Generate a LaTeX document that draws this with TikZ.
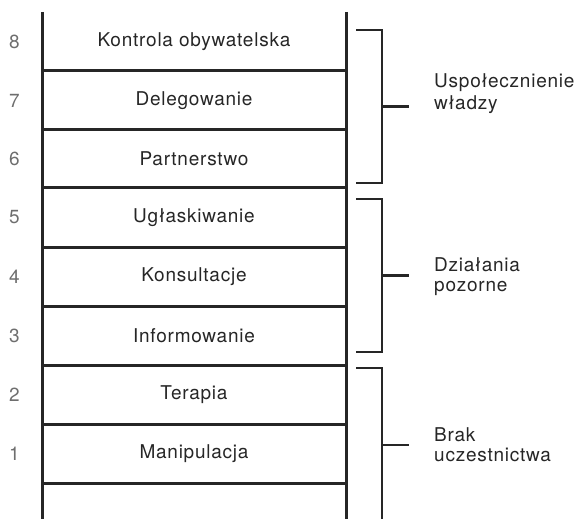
\documentclass[tikz,border=0pt]{standalone}
\usepackage{fontspec}
\setmainfont{TeX Gyre Heros}[LetterSpace=4]
\definecolor{ink}{HTML}{262626}
\definecolor{numgray}{HTML}{6E6E6E}
\begin{document}
\begin{tikzpicture}[x=1pt,y=-1pt,
  rail/.style={draw=ink,line width=3pt},
  rung/.style={draw=ink,line width=3pt},
  brace/.style={draw=ink,line width=2.8pt},
  steplabel/.style={font=\fontsize{19}{22}\selectfont,text=ink,inner sep=0pt},
  stepnum/.style={font=\fontsize{19}{22}\selectfont,text=numgray,inner sep=0pt},
  grouplabel/.style={font=\fontsize{19}{22}\selectfont,text=ink,inner sep=0pt,anchor=base west}]
\useasboundingbox (0,0) rectangle (574,519);

% rails of the ladder
\coordinate (Ltop) at (42,12);
\coordinate (Rtop) at (346,12);
\coordinate (Lbot) at (42,519);
\coordinate (Rbot) at (346,519);
\draw[rail] (Ltop) -- (Lbot);
\draw[rail] (Rtop) -- (Rbot);

% rungs
\foreach \i/\y in {1/71,2/130,3/188,4/247,5/306,6/365,7/424,8/483}{
  \coordinate (rl\i) at (42,\y);
  \coordinate (rr\i) at (346,\y);
  \draw[rung] (rl\i) -- (rr\i);
}

% steps with their numbers
\foreach \n/\y/\t in {8/41.5/Kontrola obywatelska,7/100.5/Delegowanie,6/159/Partnerstwo,
  5/217.5/Ugłaskiwanie,4/276.5/Konsultacje,3/335.5/Informowanie,2/394.5/Terapia,1/453.5/Manipulacja}{
  \node[steplabel] (s\n) at (194,\y) {\t};
  \node[stepnum] (n\n) at (14.5,\y) {\n};
}

% group brackets
\coordinate (b1t) at (356,30);   \coordinate (b1tc) at (382,30);
\coordinate (b1b) at (356,183);  \coordinate (b1bc) at (382,183);
\coordinate (b1m) at (382,106.5); \coordinate (b1e) at (409,106.5);
\draw[brace] (b1t) -- (b1tc) -- (b1bc) -- (b1b);
\draw[brace] (b1m) -- (b1e);

\coordinate (b2t) at (356,199);  \coordinate (b2tc) at (382,199);
\coordinate (b2b) at (356,352);  \coordinate (b2bc) at (382,352);
\coordinate (b2m) at (382,275.5); \coordinate (b2e) at (409,275.5);
\draw[brace] (b2t) -- (b2tc) -- (b2bc) -- (b2b);
\draw[brace] (b2m) -- (b2e);

\coordinate (b3t) at (356,368);  \coordinate (b3tc) at (382,368);
\coordinate (b3bc) at (382,522);
\coordinate (b3m) at (382,445);  \coordinate (b3e) at (409,445);
\draw[brace] (b3t) -- (b3tc) -- (b3bc);
\draw[brace] (b3m) -- (b3e);

% group names
\node[grouplabel] (g1a) at (434,88) {Uspołecznienie};
\node[grouplabel] (g1b) at (434,110) {władzy};
\node[grouplabel] (g2a) at (434,271.5) {Działania};
\node[grouplabel] (g2b) at (434,291.5) {pozorne};
\node[grouplabel] (g3a) at (434,441.5) {Brak};
\node[grouplabel] (g3b) at (434,461.5) {uczestnictwa};
\end{tikzpicture}
\end{document}
